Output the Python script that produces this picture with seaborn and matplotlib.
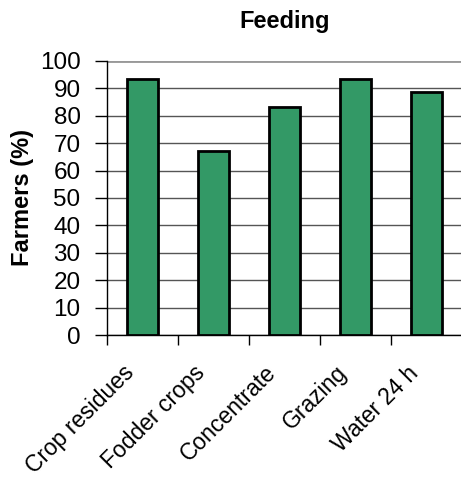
import matplotlib
matplotlib.use("Agg")
import matplotlib.pyplot as plt
import matplotlib.transforms as mtransforms
from matplotlib.ticker import FixedLocator
import seaborn as sns
import pandas as pd

categories = ["Crop residues", "Fodder crops", "Concentrate", "Grazing", "Water 24 h"]
farmers_pct = [93.5, 67.2, 83.2, 93.5, 88.7]
y_ticks = [0, 10, 20, 30, 40, 50, 60, 70, 80, 90, 100]

sns.set_style("white")
plt.rcParams["font.family"] = ["Liberation Sans", "DejaVu Sans"]
plt.rcParams["text.color"] = "black"
plt.rcParams["axes.labelcolor"] = "black"
plt.rcParams["xtick.color"] = "black"
plt.rcParams["ytick.color"] = "black"

df = pd.DataFrame({"category": categories, "pct": farmers_pct})

fig = plt.figure(figsize=(4.61, 4.80), dpi=100)
ax = fig.add_axes([0.232, 0.302, 0.770, 0.571])

sns.barplot(data=df, x="category", y="pct", color="#339966", saturation=1,
            width=0.43, edgecolor="black", linewidth=2, ax=ax, zorder=3)

ax.set_xlim(-0.5, 4.5)
ax.set_ylim(0, 100)
ax.set_yticks(y_ticks)
ax.yaxis.grid(True, color="#555555", linewidth=1, zorder=0)
ax.set_axisbelow(True)

for side in ("top", "right"):
    ax.spines[side].set_visible(False)
ax.spines["left"].set_color("black")
ax.spines["left"].set_linewidth(1)
ax.spines["bottom"].set_color("black")
ax.spines["bottom"].set_linewidth(1)
ax.axhline(100, color="#999999", linewidth=2, zorder=1)

ax.tick_params(axis="y", direction="out", length=9, width=1, color="black",
               labelsize=17.5, pad=10, left=True, labelcolor="black")
# category labels at bar centres, tick marks at category boundaries
ax.tick_params(axis="x", which="major", length=0, labelsize=16.5, pad=19,
               bottom=True, labelcolor="black")
ax.xaxis.set_minor_locator(FixedLocator([-0.5, 0.5, 1.5, 2.5, 3.5, 4.5]))
ax.tick_params(axis="x", which="minor", direction="out", length=7, width=1,
               color="black", bottom=True)

offset = mtransforms.ScaledTranslation(-20 / 100, 0, fig.dpi_scale_trans)
for lbl in ax.get_xticklabels():
    lbl.set_rotation(45)
    lbl.set_ha("right")
    lbl.set_va("top")
    lbl.set_rotation_mode("anchor")
    lbl.set_transform(lbl.get_transform() + offset)

ax.set_xlabel("")
ax.set_ylabel("Farmers (%)", fontsize=17, fontweight="bold", labelpad=4,
              color="black")
fig.text(0.618, 0.955, "Feeding", ha="center", va="center",
         fontsize=17, fontweight="bold", color="black")

fig.savefig("out.png", dpi=100)
